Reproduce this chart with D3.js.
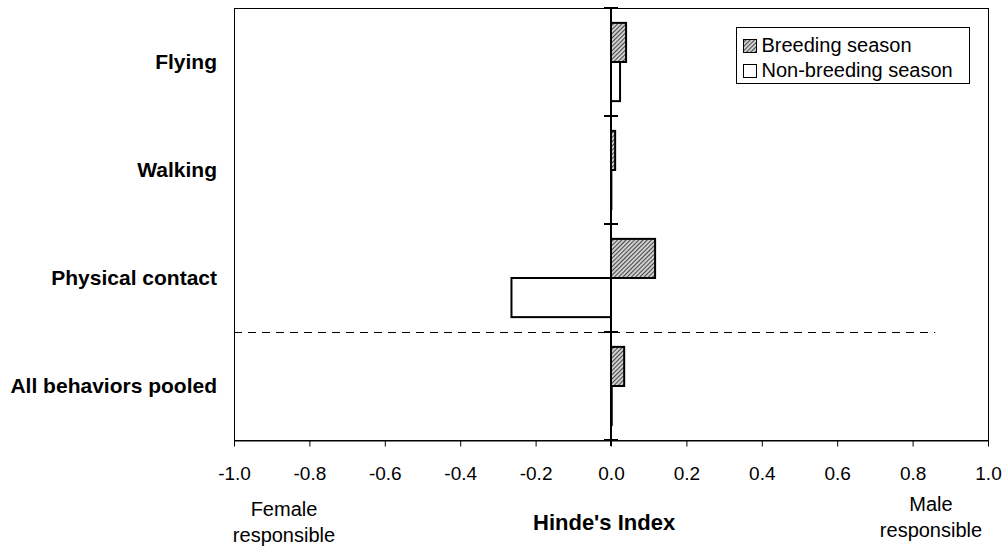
<!DOCTYPE html>
<html>
<head>
  <title>Hinde's Index</title>
  <script src="https://cdn.jsdelivr.net/npm/d3@7/dist/d3.min.js"></script>
  <style>
    body { margin: 0; background: #fff; }
    text { font-family: Arial, "Liberation Sans", sans-serif; }
  </style>
</head>
<body>
  <svg width="1006" height="548" id="mainsvg"></svg>
  <script>
    const behaviors = ['Flying', 'Walking', 'Physical contact', 'All behaviors pooled'];
    const seasons = ['Breeding season', 'Non-breeding season'];
    const breeding = [0.040, 0.011, 0.117, 0.035];
    const nonBreeding = [0.024, 0.001, -0.264, 0.002];
    const xTicks = [-1.0, -0.8, -0.6, -0.4, -0.2, 0.0, 0.2, 0.4, 0.6, 0.8, 1.0];

    const svg = d3.select('#mainsvg');
    const margin = { top: 8, right: 18, bottom: 108, left: 234 };
    const innerWidth = 1006 - margin.left - margin.right;
    const innerHeight = 548 - margin.top - margin.bottom;
    const g = svg.append('g').attr('transform', `translate(${margin.left}, ${margin.top})`);

    // diagonal hatch for the breeding season bars
    const defs = svg.append('defs');
    const pat = defs.append('pattern').attr('id', 'hatch')
      .attr('patternUnits', 'userSpaceOnUse').attr('width', 3).attr('height', 3)
      .attr('patternTransform', 'rotate(45)');
    pat.append('rect').attr('width', 3).attr('height', 3).attr('fill', '#cfcfcf');
    pat.append('line').attr('x1', 0).attr('y1', 0).attr('x2', 0).attr('y2', 3)
      .attr('stroke', '#222').attr('stroke-width', 1.6);

    const xScale = d3.scaleLinear().domain([-1, 1]).range([0, innerWidth]);
    const yScale = d3.scaleBand().domain(behaviors).range([0, innerHeight]).paddingInner(0);
    const ySub = d3.scaleBand().domain(seasons).range([0, yScale.bandwidth()]).paddingOuter(0.38).paddingInner(0);

    const fills = { 'Breeding season': 'url(#hatch)', 'Non-breeding season': '#fff' };
    const rows = behaviors.map((b, i) => ({ behavior: b, values: [
      { season: seasons[0], v: breeding[i] },
      { season: seasons[1], v: nonBreeding[i] }
    ] }));

    // frame
    g.append('rect').attr('x', 0.5).attr('y', 0.5).attr('width', innerWidth).attr('height', innerHeight)
      .attr('fill', 'none').attr('stroke', '#000').attr('stroke-width', 1);

    // bars
    g.selectAll('.row').data(rows).join('g').attr('class', 'row')
      .attr('transform', d => `translate(0, ${yScale(d.behavior)})`)
      .selectAll('rect').data(d => d.values).join('rect')
      .attr('x', d => xScale(Math.min(0, d.v)))
      .attr('y', d => ySub(d.season))
      .attr('width', d => Math.abs(xScale(d.v) - xScale(0)))
      .attr('height', ySub.bandwidth())
      .attr('fill', d => fills[d.season])
      .attr('stroke', '#000').attr('stroke-width', 2);

    // bottom axis
    const xAxis = d3.axisBottom(xScale).tickValues(xTicks).tickSize(6).tickSizeOuter(0);
    const ax = g.append('g').attr('transform', `translate(0, ${innerHeight + 0.5})`).call(xAxis);
    ax.select('.domain').attr('stroke', '#000').attr('stroke-width', 1);
    ax.selectAll('.tick line').attr('stroke', '#000');
    ax.selectAll('.tick text').attr('font-size', 19).attr('fill', '#000')
      .attr('y', 33).attr('dy', '0.35em')
      .text(d => d3.format('.1f')(d).replace('−', '-'));

    // zero line with category ticks
    g.append('line').attr('x1', xScale(0)).attr('x2', xScale(0))
      .attr('y1', 0).attr('y2', innerHeight + 6)
      .attr('stroke', '#000').attr('stroke-width', 2);
    const bounds = behaviors.map(b => yScale(b)).concat([innerHeight]);
    g.selectAll('.ctick').data(bounds).join('line').attr('class', 'ctick')
      .attr('x1', xScale(0) - 7).attr('x2', xScale(0) + 7)
      .attr('y1', d => d).attr('y2', d => d)
      .attr('stroke', '#000').attr('stroke-width', 2);

    // dashed separator above pooled row
    const sepY = Math.round(yScale(behaviors[3])) + 0.5;
    g.append('line').attr('x1', 0).attr('x2', xScale(0.86))
      .attr('y1', sepY).attr('y2', sepY)
      .attr('stroke', '#000').attr('stroke-width', 1).attr('stroke-dasharray', '8,6');

    // category labels
    g.selectAll('.clabel').data(behaviors).join('text').attr('class', 'clabel')
      .attr('x', -17).attr('y', d => yScale(d) + yScale.bandwidth() / 2)
      .attr('dy', '0.35em').attr('text-anchor', 'end')
      .attr('font-size', 21).attr('font-weight', 'bold').text(d => d);

    // legend
    const lg = g.append('g').attr('transform', `translate(${Math.round(xScale(0.331)) + 0.5}, 19.5)`);
    lg.append('rect').attr('width', 233).attr('height', 56)
      .attr('fill', '#fff').attr('stroke', '#000');
    seasons.forEach((s, i) => {
      lg.append('rect').attr('x', 7).attr('y', 12 + i * 25).attr('width', 13).attr('height', 13)
        .attr('fill', fills[s]).attr('stroke', '#000').attr('stroke-width', 1);
      lg.append('text').attr('x', 25).attr('y', 24 + i * 25)
        .attr('font-size', 20).text(s);
    });

    // axis captions
    svg.append('text').attr('x', 533).attr('y', 530).attr('text-anchor', 'start')
      .attr('font-size', 22).attr('font-weight', 'bold').text("Hinde's Index");
    const femaleX = 284, maleX = 931;
    [['Female', 'responsible', femaleX, 516], ['Male', 'responsible', maleX, 511]].forEach(([a, b, x, y]) => {
      const t = svg.append('text').attr('x', x).attr('y', y).attr('text-anchor', 'middle').attr('font-size', 20);
      t.append('tspan').attr('x', x).text(a);
      t.append('tspan').attr('x', x).attr('dy', 26).text(b);
    });
  </script>
</body>
</html>
